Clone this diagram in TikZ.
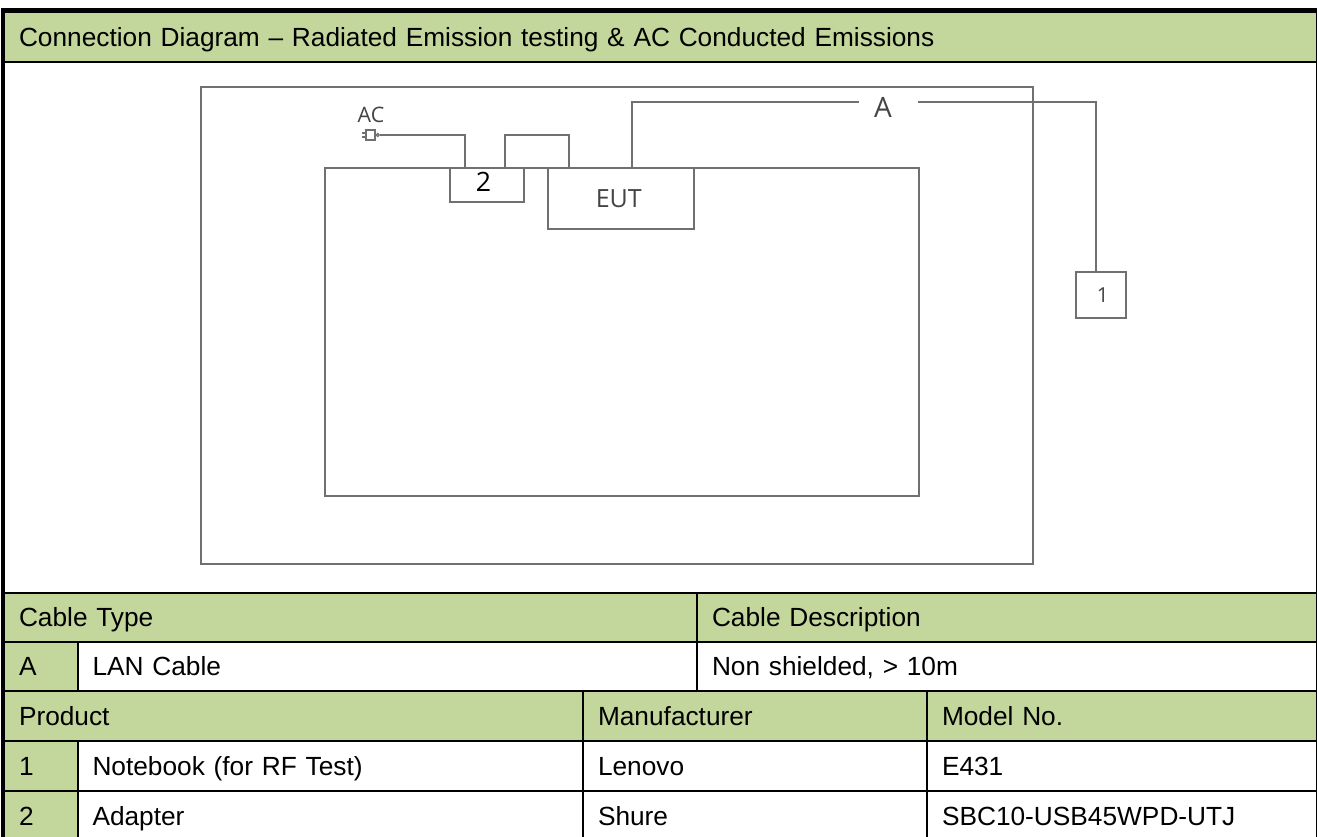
\documentclass[tikz,border=0pt]{standalone}
\usepackage{fontspec}
\setmainfont{Liberation Sans}
\newfontfamily\sketchfont{Open Sans}
\usetikzlibrary{positioning}
\definecolor{headgreen}{HTML}{C3D69B}
\definecolor{cablegray}{HTML}{707070}
\definecolor{labelgray}{HTML}{444444}
\begin{document}
\begin{tikzpicture}[x=0.75pt,y=-0.75pt,font=\fontsize{19.7}{22}\selectfont]
\tikzstyle{wide}=[minimum width=#1*0.75pt,text width=#1*0.75pt-22.5pt]
\tikzstyle{tall}=[minimum height=#1*0.75pt]
\tikzstyle{plain cell}=[draw=black,line width=1.5pt,fill=white,anchor=north west,inner xsep=11.25pt,inner ysep=0pt,align=left,text height=14pt,text depth=0pt]
\tikzstyle{head cell}=[plain cell,fill=headgreen]
\tikzstyle{device box}=[draw=cablegray,line width=1.2pt,inner sep=0pt,font=\sketchfont\fontsize{18.8}{21}\selectfont,text=labelgray]
\tikzstyle{sketch label}=[inner sep=0pt,font=\sketchfont\fontsize{18.8}{21}\selectfont,text=labelgray]
\tikzstyle{cable}=[draw=cablegray,line width=1.2pt]
\useasboundingbox (0,0) rectangle (1317,837);
\node(title)[head cell,wide=1313,tall=50] at (3,11){Connection Diagram -- Radiated Emission testing \& AC Conducted Emissions};
\node(setup)[plain cell,wide=1313,tall=531] at (3,61){};
\node(typehead)[head cell,wide=693,tall=49] at (3,592){Cable Type};
\node(deschead)[head cell,wide=620,tall=49] at (696,592){Cable Description};
\node(cablekey)[head cell,wide=73.5,tall=49] at (3,641){A};
\node(cablename)[plain cell,wide=619.5,tall=49] at (76.5,641){LAN Cable};
\node(cabledesc)[plain cell,wide=620,tall=49] at (696,641){Non shielded, > 10m};
\node(prodhead)[head cell,wide=579,tall=50] at (3,690){Product};
\node(makerhead)[head cell,wide=344,tall=50] at (582,690){Manufacturer};
\node(modelhead)[head cell,wide=390,tall=50] at (926,690){Model No.};
\node(onekey)[head cell,wide=73.5,tall=50] at (3,740){1};
\node(onename)[plain cell,wide=505.5,tall=50] at (76.5,740){Notebook (for RF Test)};
\node(onemaker)[plain cell,wide=344,tall=50] at (582,740){Lenovo};
\node(onemodel)[plain cell,wide=390,tall=50] at (926,740){E431};
\node(twokey)[head cell,wide=73.5,tall=50] at (3,790){2};
\node(twoname)[plain cell,wide=505.5,tall=50] at (76.5,790){Adapter};
\node(twomaker)[plain cell,wide=344,tall=50] at (582,790){Shure};
\node(twomodel)[plain cell,wide=390,tall=50] at (926,790){SBC10-USB45WPD-UTJ};
\coordinate(frametop) at (1317,10);
\coordinate(framecorner) at (3,10);
\coordinate(framefoot) at (3,837);
\draw[line width=3pt] (frametop) -- (framecorner) -- (framefoot);
\node(room)[device box,minimum width=832*0.75pt,minimum height=477*0.75pt,anchor=north west] at (200,86){};
\node(table)[device box,minimum width=594*0.75pt,minimum height=328*0.75pt,anchor=north west] at (324,167){};
\node(adapter)[device box,minimum width=74*0.75pt,minimum height=34*0.75pt,anchor=north west,text=black,text height=14pt,text depth=4pt,font=\sketchfont\fontsize{20}{22}\selectfont] at (449,167){\hspace{-5pt}2};
\node(eut)[device box,minimum width=146*0.75pt,minimum height=61*0.75pt,anchor=north west] at (547,167){\hspace{-3pt}EUT};
\node(notebook)[device box,minimum width=50*0.75pt,minimum height=46*0.75pt,anchor=north west,font=\sketchfont\fontsize{15.5}{18}\selectfont] at (1075,271){\hspace{3pt}1};
\node(aclabel)[sketch label,font=\sketchfont\fontsize{16}{18}\selectfont] at (371,115){AC};
\node(cablelabel)[sketch label,font=\sketchfont\fontsize{21}{24}\selectfont] at (883,107.5){A};
\node(plug)[draw=cablegray,line width=0.9pt,inner sep=0pt,minimum width=9*0.75pt,minimum height=10*0.75pt] at (370.5,135){};
\node(plugtip)[draw=cablegray,line width=0.9pt,circle,inner sep=0pt,minimum size=3*0.75pt,right=0pt of plug]{};
\draw[cable,line width=0.9pt] ([yshift=1.5pt]plug.west) -- ++(-3,0);
\draw[cable,line width=0.9pt] ([yshift=-1.5pt]plug.west) -- ++(-3,0);
\coordinate(acdrop) at (465,167);
\coordinate(linkleft) at (505,167);
\coordinate(linkright) at (569,167);
\coordinate(linktop) at (505,135);
\coordinate(lanstart) at (632,167);
\coordinate(lanleft) at (859,102);
\coordinate(lanright) at (918,102);
\coordinate(lancorner) at (1096,102);
\coordinate(landrop) at (1096,271);
\draw[cable] (plugtip.east) -| (acdrop);
\draw[cable] (linkleft) -- (linktop) -| (linkright);
\draw[cable] (lanstart) |- (lanleft);
\draw[cable] (lanright) -- (lancorner) -- (landrop);
\end{tikzpicture}
\end{document}
